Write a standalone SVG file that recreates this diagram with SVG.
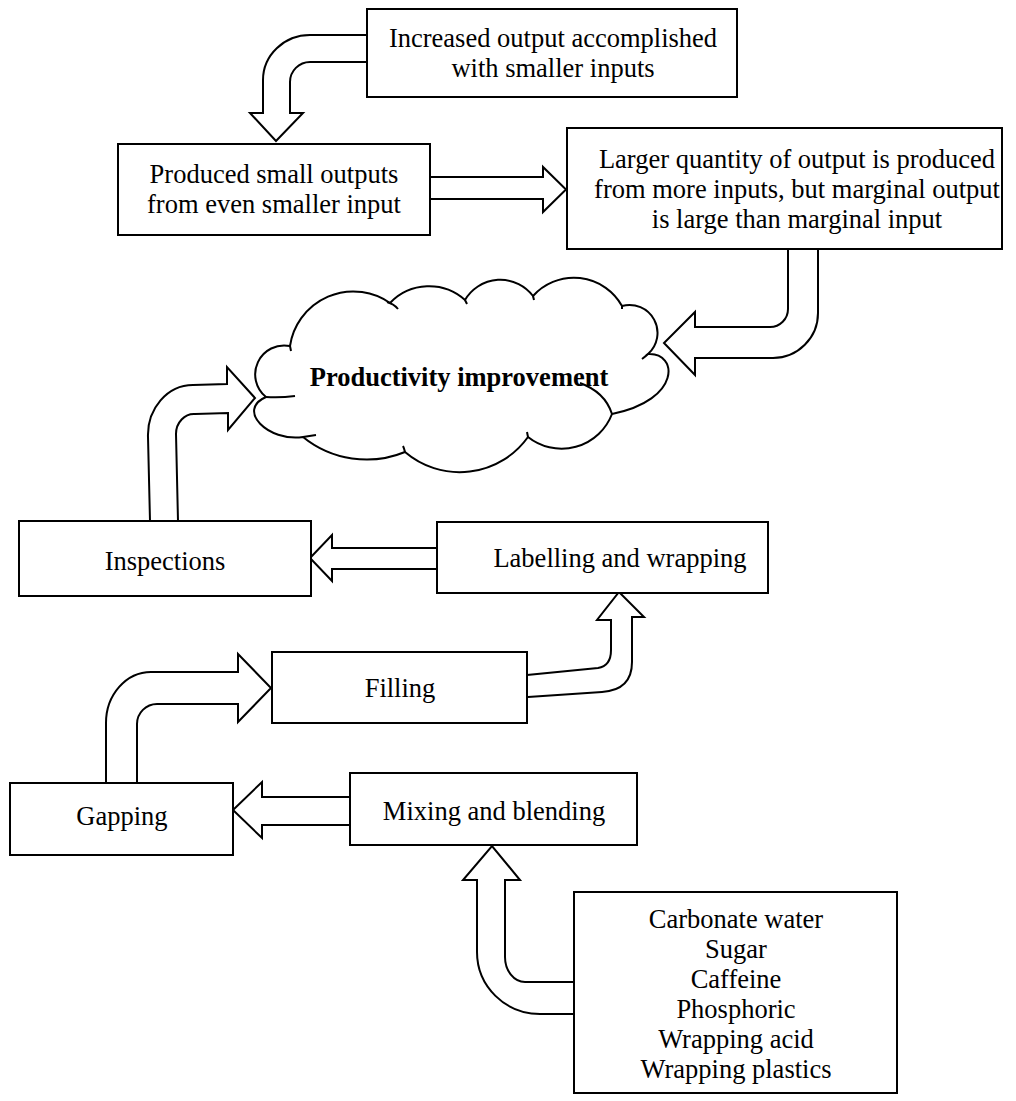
<svg xmlns="http://www.w3.org/2000/svg" width="1016" height="1101" viewBox="0 0 1016 1101">
<style>
.box{fill:#fff;stroke:#000;stroke-width:2}
.arr{fill:#fff;stroke:#000;stroke-width:2;stroke-linejoin:miter}
.tick{fill:none;stroke:#000;stroke-width:2}
.t{font-family:"Liberation Serif","Times New Roman",serif;font-size:26.5px;fill:#000;text-anchor:middle}
.b{font-weight:bold}
</style>
<rect width="1016" height="1101" fill="#fff"/>
<g id="connectors">
<path class="arr" d="M368 35 L310 35 A47 45 0 0 0 263 80 L263 113 L250 113 L276 141 L303 113 L290 113 L290 82 A20 20 0 0 1 310 62 L368 62"/>
<path class="arr" d="M430 177 L543 177 L543 167 L566 189.5 L543 212 L543 199 L430 199"/>
<path class="arr" d="M818 249 L818 313 A45 45 0 0 1 773 358 L695 358 L695 375 L664 343 L695 312 L695 327 L770 327 A18 18 0 0 0 788 309 L788 249"/>
<path class="arr" d="M150 521 L148 437 A45 50 0 0 1 193 385 L227 384 L227 367 L255 398 L228 430 L228 413 L195 414 A18 20 0 0 0 176 434 L178 521"/>
<path class="arr" d="M437 548 L332 548 L332 535 L310 558 L332 581 L332 569 L437 569"/>
<path class="arr" d="M527 675 L598 668 Q611 666 611 650 L611 620 L597 620 L619 592 L644 617 L632 617 L632 662 Q632 690 602 692 L528 697"/>
<path class="arr" d="M106 783 L106 723 A45 51 0 0 1 151 672 L238 672 L238 654 L271 688 L238 722 L238 704 L157 704 A20 20 0 0 0 137 724 L137 783"/>
<path class="arr" d="M350 797 L262 797 L262 782 L233 810 L262 838 L262 825 L350 825"/>
<path class="arr" d="M574 982 L525 982 A20 25 0 0 1 505 957 L505 880 L520 880 L492 846 L463 880 L477 880 L477 952 A63 62 0 0 0 540 1014 L574 1014"/>
</g>
<g id="node-increased">
<rect class="box" x="367" y="9" width="370" height="88"/>
<text class="t" x="553" y="47">Increased output accomplished</text>
<text class="t" x="553" y="77">with smaller inputs</text>
</g>
<g id="node-produced">
<rect class="box" x="118" y="144" width="312" height="91"/>
<text class="t" x="274" y="183">Produced small outputs</text>
<text class="t" x="274" y="213">from even smaller input</text>
</g>
<g id="node-larger">
<rect class="box" x="567" y="128" width="435" height="121"/>
<text class="t" x="797" y="168">Larger quantity of output is produced</text>
<text class="t" x="797" y="198">from more inputs, but marginal output</text>
<text class="t" x="797" y="228">is large than marginal input</text>
</g>
<g id="node-productivity">
<path class="box" d="M266 397 A29 29 0 0 1 290 346 A64 64 0 0 1 390 303 A54 54 0 0 1 465 300 A41 41 0 0 1 533 296 A55 55 0 0 1 622 306 A28 28 0 0 1 648 354 C678 352 682 400 612 414 A54 54 0 0 1 528 437 A84 84 0 0 1 405 452 A101 101 0 0 1 303 437 C268 442 236 410 266 397 Z"/>
<path class="tick" d="M387 302 Q394 304 398 309 M465 300 l2 4 M533 296 l1 4 M622 306 l0 3 M648 354 Q646 356 642 359 M580 383 Q605 392 612 414 M528 437 l-1 -5 M405 452 Q404 448 403 446 M303 437 L316 435 M266 397 Q280 398 295 396 M290 346 l1 5"/>
<text class="t b" x="459" y="386">Productivity improvement</text>
</g>
<g id="node-inspections">
<rect class="box" x="19" y="521" width="292" height="75"/>
<text class="t" x="165" y="570">Inspections</text>
</g>
<g id="node-labelling">
<rect class="box" x="437" y="522" width="331" height="71"/>
<text class="t" x="620" y="567">Labelling and wrapping</text>
</g>
<g id="node-filling">
<rect class="box" x="272" y="652" width="255" height="71"/>
<text class="t" x="400" y="697">Filling</text>
</g>
<g id="node-gapping">
<rect class="box" x="10" y="783" width="223" height="72"/>
<text class="t" x="122" y="825">Gapping</text>
</g>
<g id="node-mixing">
<rect class="box" x="350" y="773" width="287" height="72"/>
<text class="t" x="494" y="820">Mixing and blending</text>
</g>
<g id="node-ingredients">
<rect class="box" x="574" y="892" width="323" height="201"/>
<text class="t" x="736" y="928">Carbonate water</text>
<text class="t" x="736" y="958">Sugar</text>
<text class="t" x="736" y="988">Caffeine</text>
<text class="t" x="736" y="1018">Phosphoric</text>
<text class="t" x="736" y="1048">Wrapping acid</text>
<text class="t" x="736" y="1078">Wrapping plastics</text>
</g>
</svg>
